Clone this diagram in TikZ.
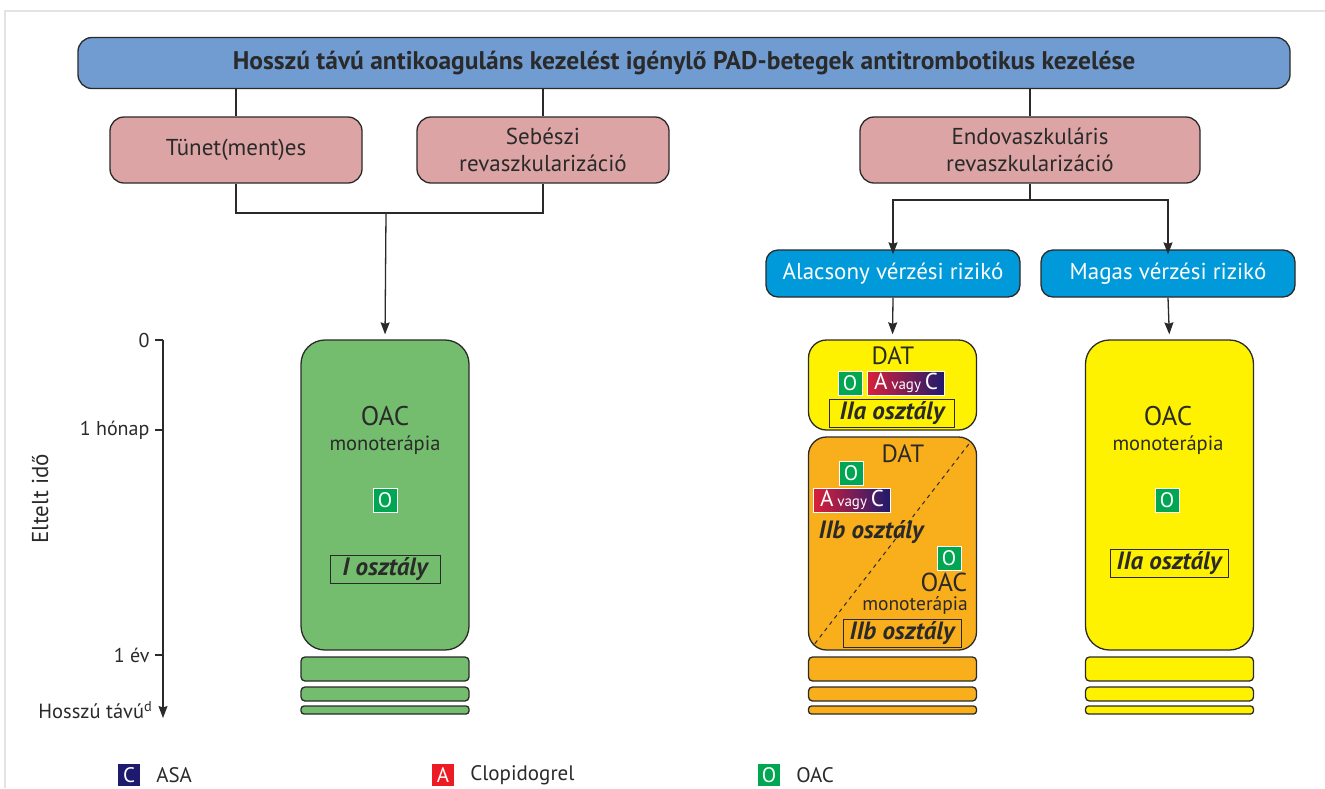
\documentclass[tikz,border=0pt]{standalone}
\usepackage{fontspec}
\setmainfont{PT Sans}
\usetikzlibrary{arrows.meta,positioning}
\definecolor{titleblue}{HTML}{709CD2}
\definecolor{pinkc}{HTML}{DCA4A5}
\definecolor{riskblue}{HTML}{0099D9}
\definecolor{greenc}{HTML}{74BD6E}
\definecolor{yellowc}{HTML}{FFF200}
\definecolor{orangec}{HTML}{F9AE1C}
\definecolor{oacgreen}{HTML}{00A651}
\definecolor{asanavy}{HTML}{1E1A6E}
\definecolor{clopred}{HTML}{ED1C24}
\definecolor{shadered}{HTML}{D9203A}
\definecolor{linec}{HTML}{2A2A2A}
\definecolor{framec}{HTML}{E3E3E3}
\newcommand{\fsz}[1]{\fontsize{#1}{#1}\selectfont}

\begin{document}
\begin{tikzpicture}[x=1pt, y=-1pt, line width=1.3pt, draw=linec, text=linec,
  every node/.style={inner sep=1pt},
  box/.style={draw=linec, rounded corners=14pt, align=center, inner sep=0pt},
  titlebox/.style={box, fill=titleblue, minimum width=1212pt, minimum height=51pt, font=\bfseries\fsz{25.5}},
  pinkbox/.style={box, fill=pinkc, minimum width=252pt, minimum height=66pt, font={\fontsize{23}{27}\selectfont}},
  riskbox/.style={box, fill=riskblue, text=white, rounded corners=12pt, minimum width=254pt, minimum height=47pt, font=\fsz{23}},
  timebox/.style={draw=linec, rounded corners=24pt, minimum width=168pt, inner sep=0pt},
  stackbar/.style={draw=linec, rounded corners=4pt, minimum width=168pt, inner sep=0pt},
  oicon/.style={fill=oacgreen, draw=white, line width=0.9pt, text=white, minimum size=24pt, inner sep=0pt, font=\fsz{21}},
  acbox/.style={left color=shadered, right color=asanavy, draw=white, line width=0.9pt, text=white, minimum height=24pt, minimum width=77pt, inner sep=0pt, font=\fsz{23}},
  classbox/.style={draw=linec, line width=1pt, minimum height=28pt, inner sep=0pt, font=\bfseries\itshape\fsz{25}},
  legsq/.style={minimum size=22pt, inner sep=0pt, text=white, font=\fsz{21}},
  arr/.style={-{Stealth[length=12pt,width=9pt,inset=1.5pt]}}]
\useasboundingbox (0,0) rectangle (1325,788);
\draw[framec, line width=1.5pt] (5,788) -- (5,11) -- (1325,11);

% top of the tree
\node[titlebox] (title) at (684,63) {Hosszú távú antikoaguláns kezelést igénylő PAD-betegek antitrombotikus kezelése};
\node[pinkbox] (tunet) at (236,150) {Tünet(ment)es};
\node[pinkbox] (sebeszi) at (543,150) {Sebészi\\revaszkularizáció};
\node[pinkbox, minimum width=340pt] (endo) at (1030,150) {Endovaszkuláris\\revaszkularizáció};
\node[riskbox] (alacsony) at (893,273.5) {Alacsony vérzési rizikó};
\node[riskbox] (magas) at (1168,273.5) {Magas vérzési rizikó};
\draw[](tunet.north) -- (tunet.north |- title.south);
\draw[](sebeszi.north) -- (sebeszi.north |- title.south);
\draw[](endo.north) -- (endo.north |- title.south);
\coordinate (join) at (386,213);
\draw[](tunet.south) -- (tunet.south |- join) -| (sebeszi.south);
\coordinate (ejoin) at (1030,200);
\draw[](endo.south) -- (ejoin);
\draw[arr](ejoin) -| ([yshift=-5pt]alacsony.north);
\draw[arr](ejoin) -| ([yshift=-5pt]magas.north);

% time boxes
\node[timebox, fill=greenc, minimum height=310pt] (greenbox) at (385,495) {};
\node[timebox, fill=yellowc, minimum height=90pt, rounded corners=18pt] (ysmall) at (892.5,385) {};
\node[timebox, fill=orangec, minimum height=213pt, rounded corners=18pt] (orange) at (892.5,543.5) {};
\node[timebox, fill=yellowc, minimum height=310pt] (ybig) at (1169.5,495) {};
\draw[arr, shorten >=5pt](join) -- (greenbox.north);
\draw[arr, shorten >=5pt](alacsony.south) -- (ysmall.north);
\draw[arr, shorten >=5pt](magas.south) -- (ybig.north);
\foreach \cx/\col/\nm in {385/greenc/g, 892.5/orangec/o, 1169.5/yellowc/y}{
  \node[stackbar, fill=\col, minimum height=24pt] (\nm bar1) at (\cx,669) {};
  \node[stackbar, fill=\col, minimum height=14pt] (\nm bar2) at (\cx,694) {};
  \node[stackbar, fill=\col, minimum height=8pt, rounded corners=3pt] (\nm bar3) at (\cx,710) {};
}

% green box
\node[font=\fsz{27}] (goac) at (385,416) {OAC};
\node[font=\fsz{20.5}] (gmono) at (385,445) {monoterápia};
\node[oicon] (gicon) at (385,500) {O};
\node[classbox, minimum width=110pt] (gclass) at (385,569) {I osztály};

% yellow small box
\node[font=\fsz{25}] (ydat) at (893,356) {DAT};
\node[oicon] (yicon) at (850,383) {O};
\node[acbox] (yac) at (906,383) {A\,{\fsz{15}vagy}\,C};
\node[classbox, minimum width=125pt] (yclass) at (892,413) {IIa osztály};

% orange box
\draw[dashed, line width=1pt, dash pattern=on 4pt off 4pt]([shift={(7,-7)}]orange.south west) -- ([shift={(-7,6)}]orange.north east);
\node[font=\fsz{25}] (odat) at (903,454) {DAT};
\node[oicon] (oicona) at (851,473) {O};
\node[acbox] (oac) at (852,500) {A\,{\fsz{15}vagy}\,C};
\node[font=\bfseries\itshape\fsz{25}] (oclass) at (871,532) {IIb osztály};
\node[oicon] (oiconb) at (949,558) {O};
\node[font=\fsz{26}] (ooac) at (944,582) {OAC};
\node[font=\fsz{19.5}] (omono) at (915,605) {monoterápia};
\node[classbox, minimum width=118pt] (oclassb) at (902,633) {IIb osztály};

% right yellow box
\node[font=\fsz{27}] (boac) at (1168,416) {OAC};
\node[font=\fsz{20.5}] (bmono) at (1168,445) {monoterápia};
\node[oicon] (bicon) at (1167,500) {O};
\node[classbox, minimum width=118pt] (bclass) at (1169,563) {IIa osztály};

% time axis
\coordinate (axtop) at (163,340);
\coordinate (axbot) at (163,718);
\draw[arr, line width=1.2pt](axtop) -- (axbot);
\foreach \yy/\lbl/\nm in {340/0/tzero, 430/1 hónap/tmonth, 655/1 év/tyear}{
  \draw[line width=1.2pt](163,\yy) -- (155,\yy) node[left, inner sep=5pt, font=\fsz{20}] (\nm) {\lbl};
}
\node[left, inner sep=0pt, font=\fsz{20.5}] (tlong) at (153,710) {Hosszú távú\textsuperscript{d}};
\node[rotate=90, font=\fsz{23}] (elapsed) at (40,499) {Eltelt idő};

% legend
\node[legsq, fill=asanavy] (legc) at (129,775) {C};
\node[right=14pt of legc, font=\fsz{21}] (legasa) {ASA};
\node[legsq, fill=clopred] (lega) at (443,775) {A};
\node[right=14pt of lega, font=\fsz{21}] (legclop) {Clopidogrel};
\node[legsq, fill=oacgreen] (lego) at (769,775) {O};
\node[right=14pt of lego, font=\fsz{21}] (legoac) {OAC};
\end{tikzpicture}
\end{document}
